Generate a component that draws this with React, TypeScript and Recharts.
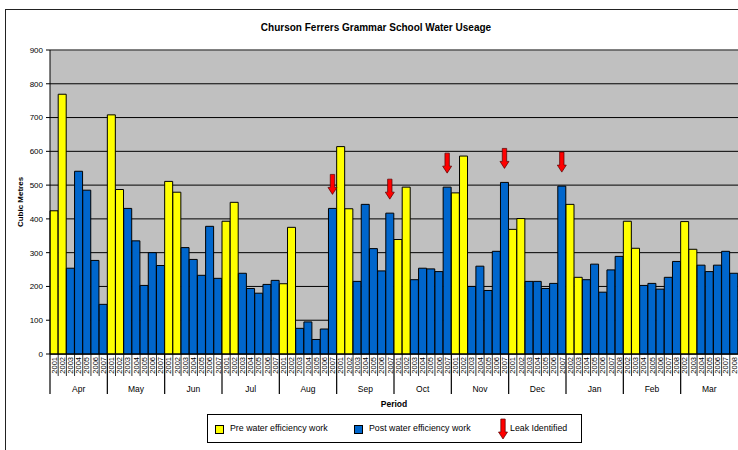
import React from 'react';
import { BarChart, Bar, Cell, XAxis, YAxis, CartesianGrid, LabelList, Label, ReferenceLine } from 'recharts';

const MONTHS = ['Apr', 'May', 'Jun', 'Jul', 'Aug', 'Sep', 'Oct', 'Nov', 'Dec', 'Jan', 'Feb', 'Mar'];
const YEARS_APR_DEC = ['2001', '2002', '2003', '2004', '2005', '2006', '2007'];
const YEARS_JAN_MAR = ['2002', '2003', '2004', '2005', '2006', '2007', '2008'];

// cubic metres per month, one value per year
const APR = [424, 769, 254, 541, 485, 277, 147];
const MAY = [708, 487, 431, 335, 203, 300, 262];
const JUN = [511, 479, 315, 280, 233, 378, 224];
const JUL = [393, 449, 239, 194, 180, 206, 218];
const AUG = [208, 375, 76, 95, 43, 74, 431];
const SEP = [614, 430, 215, 443, 312, 246, 417];
const OCT = [339, 494, 220, 254, 252, 244, 494];
const NOV = [477, 586, 200, 260, 188, 304, 508];
const DEC = [369, 401, 215, 215, 194, 209, 497];
const JAN = [443, 227, 220, 266, 183, 249, 289];
const FEB = [393, 313, 203, 209, 192, 227, 274];
const MAR = [392, 310, 263, 244, 263, 304, 239];
const USAGE = [APR, MAY, JUN, JUL, AUG, SEP, OCT, NOV, DEC, JAN, FEB, MAR];

// first two years of every month were before the efficiency work
const PRE_COUNT = 2;
const LEAKS = ['Aug 2007', 'Sep 2007', 'Oct 2007', 'Nov 2007', 'Dec 2007'];
const Y_TICKS = [0, 100, 200, 300, 400, 500, 600, 700, 800, 900];

const PRE_COLOR = '#FFFF00';
const POST_COLOR = '#0066CC';
const GROUP = 7;

const rows = MONTHS.flatMap((m, mi) => {
  const years = mi >= 9 ? YEARS_JAN_MAR : YEARS_APR_DEC;
  return years.map((y, yi) => ({
    key: `${m} ${y}`,
    month: m,
    year: y,
    value: USAGE[mi][yi],
    pre: yi < PRE_COUNT,
    leak: LEAKS.includes(`${m} ${y}`) ? 1 : 0,
  }));
});

const YearTick = (props: any) => {
  const { x, y, payload, index } = props;
  const half = payload?.offset ?? 4.1;
  const i = index ?? payload?.index ?? 0;
  const row = rows[i];
  const first = i % GROUP === 0;
  return (
    <g>
      <line x1={x - half} x2={x - half} y1={y} y2={y + (first ? 40 : 22)} stroke="#000" strokeWidth={first ? 1.2 : 0.8} />
      <text x={x} y={y + 3} dy="0.35em" transform={`rotate(-90 ${x} ${y + 3})`} textAnchor="end" fontSize={7.5} fill="#000">
        {row ? row.year : ''}
      </text>
    </g>
  );
};

const MonthTick = (props: any) => {
  const { x, y, payload, index } = props;
  const i = index ?? payload?.index ?? 0;
  if (i % GROUP !== 3) return null;
  return (
    <text x={x} y={y + 14} textAnchor="middle" fontSize={8.5} fill="#000">
      {rows[i].month}
    </text>
  );
};

const Arrow = ({ cx, tip, size = 1 }: { cx: number; tip: number; size?: number }) => {
  const sw = 2.2 * size;
  const hw = 4.5 * size;
  const hh = 7 * size;
  const sh = 13 * size;
  const pts = [
    [cx - sw, tip - hh - sh],
    [cx + sw, tip - hh - sh],
    [cx + sw, tip - hh],
    [cx + hw, tip - hh],
    [cx, tip],
    [cx - hw, tip - hh],
    [cx - sw, tip - hh],
  ]
    .map((p) => p.join(','))
    .join(' ');
  return <polygon points={pts} fill="#FF0000" stroke="#550000" strokeWidth={0.7} />;
};

const LeakMark = (props: any) => {
  const { x, y, width, value } = props;
  if (!value) return null;
  return <Arrow cx={Number(x) + Number(width) / 2} tip={Number(y) - 14} />;
};

const font = '"Liberation Sans", Arial, sans-serif';

export default function App() {
  return (
    <div style={{ position: 'fixed', left: 0, top: 0, width: 738, height: 450, overflow: 'hidden', background: '#fff', fontFamily: font }}>
      <div style={{ position: 'absolute', left: 5, top: 9, width: 780, height: 480, border: '1px solid #222' }} />
      <div style={{ position: 'absolute', left: 0, top: 22, width: 752, textAlign: 'center', fontSize: 10, fontWeight: 700, lineHeight: '12px' }}>
        Churson Ferrers Grammar School Water Useage
      </div>
      <div style={{ position: 'absolute', left: 0, top: 0 }}>
        <BarChart width={760} height={450} data={rows} margin={{ top: 50, right: 22, left: 10, bottom: 42 }} barCategoryGap={0} barGap={0}>
          <CartesianGrid vertical={false} stroke="#000" fill="#C0C0C0" fillOpacity={1} />
          <XAxis dataKey="key" interval={0} tickSize={0} tickMargin={0} tickLine={false} axisLine={{ stroke: '#000' }} height={24} tick={<YearTick />} />
          <XAxis xAxisId="month" dataKey="key" interval={0} tickSize={0} tickMargin={0} tickLine={false} axisLine={false} height={30} tick={<MonthTick />}>
            <Label value="Period" position="insideBottom" offset={1} style={{ fontSize: 8.5, fontWeight: 700, fill: '#000' }} />
          </XAxis>
          <YAxis
            type="number"
            domain={[0, 900]}
            ticks={Y_TICKS}
            interval={0}
            width={40}
            tickSize={4}
            tickMargin={3}
            axisLine={{ stroke: '#000' }}
            tickLine={{ stroke: '#000' }}
            tick={{ fontSize: 8, fill: '#000' }}
          >
            <Label value="Cubic Metres" angle={-90} position="insideLeft" offset={10} style={{ textAnchor: 'middle', fontSize: 8, fontWeight: 700, fill: '#000' }} />
          </YAxis>
          <ReferenceLine y={900} stroke="#808080" />
          <Bar dataKey="value" isAnimationActive={false} stroke="#000" strokeWidth={1}>
            {rows.map((r) => (
              <Cell key={r.key} fill={r.pre ? PRE_COLOR : POST_COLOR} />
            ))}
            <LabelList dataKey="leak" content={<LeakMark />} />
          </Bar>
        </BarChart>
      </div>
      <div
        style={{
          position: 'absolute',
          left: 207,
          top: 414,
          width: 373,
          height: 27,
          border: '1px solid #000',
          fontSize: 8.8,
          color: '#000',
        }}
      >
        <div style={{ position: 'absolute', left: 7, top: 10, width: 7, height: 7, background: PRE_COLOR, border: '1px solid #000' }} />
        <div style={{ position: 'absolute', left: 22, top: 8, lineHeight: '11px' }}>Pre water efficiency work</div>
        <div style={{ position: 'absolute', left: 146, top: 10, width: 7, height: 7, background: POST_COLOR, border: '1px solid #000' }} />
        <div style={{ position: 'absolute', left: 161, top: 8, lineHeight: '11px' }}>Post water efficiency work</div>
        <svg style={{ position: 'absolute', left: 288, top: 2 }} width={14} height={24}>
          <Arrow cx={7} tip={22} size={1} />
        </svg>
        <div style={{ position: 'absolute', left: 302, top: 8, lineHeight: '11px' }}>Leak Identified</div>
      </div>
    </div>
  );
}
